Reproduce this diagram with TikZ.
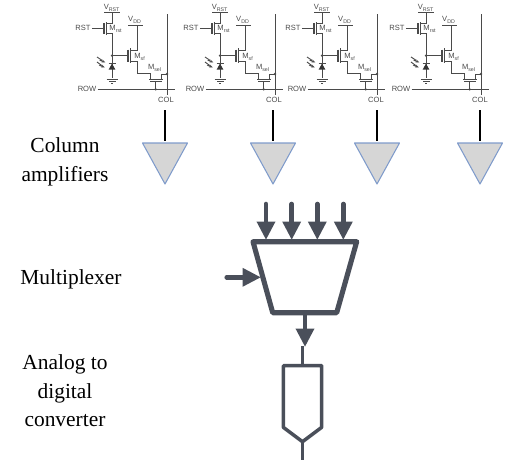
\documentclass[tikz,border=0pt]{standalone}
\usepackage{fontspec}
\setmainfont{Liberation Serif}
\newfontfamily\cellfont{Liberation Sans}
\usetikzlibrary{arrows.meta}
\definecolor{muxgray}{HTML}{4A4F5A}
\definecolor{cellgray}{HTML}{4A4A4A}
\definecolor{ampfill}{HTML}{D6D6D6}
\definecolor{ampedge}{HTML}{7F9BCB}
\tikzset{
  wire/.style={cellgray, line width=0.55pt},
  celltext/.style={text=cellgray, inner sep=0pt, font=\cellfont\fontsize{4.3}{5}\selectfont},
  sidetext/.style={inner sep=0pt, font=\fontsize{12.2}{14}\selectfont},
  busarrow/.style={muxgray, line width=2.6pt, line cap=round, -{Triangle[length=10.5pt, width=10pt]}},
  pics/pixelcell/.style={code={
    % Reset transistor and supply
    \node[celltext] (-vrst) at (112,8) {V\textsubscript{RST}};
    \node[celltext] (-rst) at (83,28) {RST};
    \node[celltext] (-mrst) at (116,29) {M\textsubscript{rst}};
    \draw[wire] (104,12.7) -- (120,12.7);
    \draw[wire] (-rst.east) ++(1,0) -- (104,28);
    \draw[wire, line width=0.7pt] (104,23) -- (104,34);
    \draw[wire, line width=0.7pt] (106.7,22) -- (106.7,35);
    \draw[wire] (112,12.7) -- (112,23.5) -- (106.7,23.5);
    \draw[wire] (106.7,33.5) -- (112,33.5) -- (112,78);
    \fill[cellgray] (112,55.7) circle (1.3);
    % Follower transistor
    \node[celltext] (-vdd) at (135,20) {V\textsubscript{DD}};
    \node[celltext] (-msf) at (140,57) {M\textsubscript{sf}};
    \draw[wire] (128,25) -- (143,25);
    \draw[wire] (112,55.7) -- (128,55.7);
    \draw[wire, line width=0.7pt] (128,49.5) -- (128,62);
    \draw[wire, line width=0.7pt] (130.7,48) -- (130.7,62.5);
    \draw[wire] (137,25) -- (137,50) -- (130.7,50);
    \draw[wire] (130.7,61) -- (137,61) -- (137,73.3) -- (150,73.3) -- (150,79.3);
    % Select transistor
    \node[celltext] (-msel) at (155,68) {M\textsubscript{sel}};
    \draw[wire, line width=0.7pt] (149,79.3) -- (163,79.3);
    \draw[wire, line width=0.7pt] (150,81.3) -- (162,81.3);
    \draw[wire] (161.7,79.3) -- (161.7,74) -- (167,74);
    \fill[cellgray] (167,74) circle (1.3);
    \draw[wire] (155.7,81.3) -- (155.7,89.3);
    \fill[cellgray] (155.7,89.3) circle (1.3);
    % Photodiode with ground
    \fill[cellgray!70!black] (108.7,69.5) -- (115.3,69.5) -- (112,63.5) -- cycle;
    \draw[wire] (108.5,63.3) -- (115.5,63.3);
    \draw[wire] (106.7,79) -- (118.3,79);
    \draw[wire] (109,81) -- (115.7,81);
    \draw[wire] (111,83) -- (113.3,83);
    \draw[wire, -{Stealth[length=2.2pt]}] (97,57) -- (101.5,60) -- (100.5,60.5) -- (105.5,62.5);
    \draw[wire, -{Stealth[length=2.2pt]}] (97,62) -- (101,65) -- (100,65.5) -- (105,67.5);
    % Row and column lines
    \node[celltext] (-row) at (87,89.3) {ROW};
    \node[celltext] (-col) at (166,100) {COL};
    \draw[wire] (-row.east) ++(1,0) -- (175,89.3);
    \draw[wire] (167,14) -- (167,95);
  }}
}
\begin{document}
\begin{tikzpicture}[x=0.02cm, y=-0.02cm]
  \useasboundingbox (0,0) rectangle (507,463);

  % Four pixels, each feeding one column amplifier
  \foreach \i/\dx/\cx in {1/0/165, 2/108/273, 3/210/377, 4/314/480} {
    \pic (cell\i) at (\dx,0) {pixelcell};
    \coordinate (colout\i) at (\cx,110);
    \coordinate (ampin\i) at (\cx,141);
    \coordinate (amptop\i) at (\cx,143);
    \draw[black, line width=1.2pt] (colout\i) -- (ampin\i);
    \draw[ampedge, fill=ampfill, line width=0.6pt, line join=round]
      (amptop\i) ++(-22.5,0) -- ++(45,0) -- ++(-22.5,41) -- cycle;
  }

  % Labels on the left
  \node[sidetext] (ampname) at (65,162) [align=center] {Column\\[2.5pt]amplifiers};
  \node[sidetext] (muxname) at (71,279) {Multiplexer};
  \node[sidetext] (adcname) at (65,391) [align=center] {Analog to\\[2.3pt]digital\\[2.3pt]converter};

  % Multiplexer
  \draw[muxgray, line width=2.9pt, line join=round]
    (253,241.7) -- (356.7,241.7) -- (336.7,312.7) -- (272.7,312.7) -- cycle;
  \foreach \i/\x in {1/266, 2/291.7, 3/317.3, 4/343.3} {
    \coordinate (busin\i) at (\x,204);
    \coordinate (busend\i) at (\x,240);
    \draw[busarrow] (busin\i) -- (busend\i);
  }
  \coordinate (selin) at (226.7,277.3);
  \coordinate (selend) at (261,277.3);
  \draw[busarrow] (selin) -- (selend);
  \coordinate (muxout) at (305,315);
  \coordinate (adcin) at (305,347);
  \draw[busarrow, line cap=butt] (muxout) -- (adcin);

  % Analog to digital converter
  \draw[muxgray, line width=2pt, line join=round]
    (283.3,365.7) -- (321.7,365.7) -- (321.7,427.3) -- (302.5,441.7) -- (283.3,427.3) -- cycle;
  \coordinate (adctop) at (302.5,365.7);
  \coordinate (adcstem) at (302.5,346);
  \coordinate (adctip) at (302.5,441.7);
  \coordinate (adcend) at (302.5,460);
  \draw[muxgray, line width=2.2pt] (adcstem) -- (adctop);
  \draw[muxgray, line width=2.2pt] (adctip) -- (adcend);
\end{tikzpicture}
\end{document}
